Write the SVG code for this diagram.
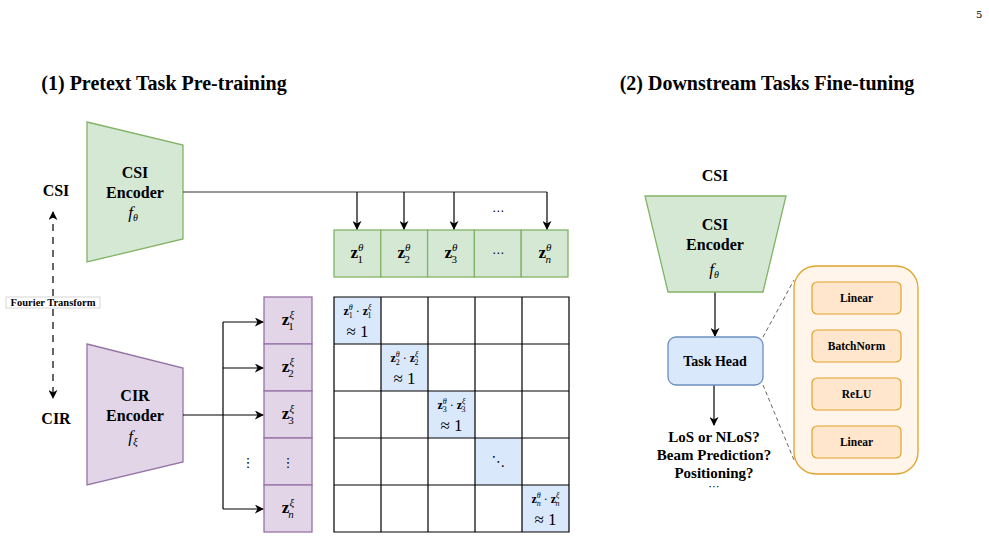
<svg xmlns="http://www.w3.org/2000/svg" width="989" height="540" viewBox="0 0 989 540">
<defs>
<marker id="ah" viewBox="0 0 10 10" refX="9" refY="5" markerWidth="9" markerHeight="9" markerUnits="userSpaceOnUse" orient="auto">
<path d="M0,0 L10,5 L0,10 L3,5 z" fill="#000"/>
</marker>
<marker id="ahs" viewBox="0 0 10 10" refX="9" refY="5" markerWidth="6" markerHeight="6" markerUnits="userSpaceOnUse" orient="auto">
<path d="M0,0 L10,5 L0,10 L3,5 z" fill="#000"/>
</marker>
<style>
text{font-family:"Liberation Serif","Times New Roman",serif;fill:#000}
.title{font-size:20px;font-weight:bold;text-anchor:middle}
.lbl{font-size:16px;font-weight:bold;text-anchor:middle}
.lbl2{font-size:15px;font-weight:bold;text-anchor:middle}
.sm{font-size:11.5px;font-weight:bold;text-anchor:middle}
.mz{font-size:17px;text-anchor:middle}
.cz{font-size:12px;text-anchor:middle}
.bz{font-weight:bold}
.it{font-style:italic}
.green{fill:#d5e8d4;stroke:#82b366;stroke-width:1.3}
.purple{fill:#e1d5e7;stroke:#9673a6;stroke-width:1.3}
.blue{fill:#dae8fc;stroke:#6c8ebf;stroke-width:1.3}
.conn{fill:none;stroke:#000;stroke-width:1.2}
.grid{fill:none;stroke:#000;stroke-width:1.2}
.dash{fill:none;stroke:#666;stroke-width:1;stroke-dasharray:4 3}
</style>
</defs>

<text x="976" y="18" style="font-size:10px;font-family:'DejaVu Serif',serif">5</text>
<text class="title" x="164" y="90">(1) Pretext Task Pre-training</text>
<text class="title" x="767" y="90">(2) Downstream Tasks Fine-tuning</text>

<g id="csi-label">
<text class="lbl" x="56" y="196">CSI</text>
</g>
<g id="cir-label">
<text class="lbl" x="56" y="424">CIR</text>
</g>

<g id="csi-encoder">
<polygon class="green" points="87,122 183,145 183,239 87,262"/>
<text class="lbl" x="135" y="178">CSI</text>
<text class="lbl" x="135" y="198">Encoder</text>
<text class="mz" x="133" y="218"><tspan class="it">f</tspan><tspan class="it" font-size="10" dy="3">θ</tspan></text>
</g>

<g id="cir-encoder">
<polygon class="purple" points="87,344 183,368 183,462 87,485"/>
<text class="lbl" x="135" y="401">CIR</text>
<text class="lbl" x="135" y="421">Encoder</text>
<text class="mz" x="133" y="442"><tspan class="it">f</tspan><tspan class="it" font-size="11" dy="3">ξ</tspan></text>
</g>

<g id="z-theta">
<rect class="green" x="334" y="230" width="46.8" height="47"/>
<rect class="green" x="380.8" y="230" width="46.8" height="47"/>
<rect class="green" x="427.6" y="230" width="46.8" height="47"/>
<rect class="green" x="474.4" y="230" width="46.8" height="47"/>
<rect class="green" x="521.2" y="230" width="46.8" height="47"/>
<text class="mz" x="357" y="258"><tspan class="bz">z</tspan><tspan class="it" font-size="11" dy="-7">θ</tspan><tspan font-size="11" dx="-6" dy="12">1</tspan></text>
<text class="mz" x="404" y="258"><tspan class="bz">z</tspan><tspan class="it" font-size="11" dy="-7">θ</tspan><tspan font-size="11" dx="-6" dy="12">2</tspan></text>
<text class="mz" x="451" y="258"><tspan class="bz">z</tspan><tspan class="it" font-size="11" dy="-7">θ</tspan><tspan font-size="11" dx="-6" dy="12">3</tspan></text>
<text class="mz" x="498" y="257" style="font-family:'DejaVu Sans',sans-serif;font-size:12px">⋯</text>
<text class="mz" x="545" y="258"><tspan class="bz">z</tspan><tspan class="it" font-size="11" dy="-7">θ</tspan><tspan class="it" font-size="11" dx="-6" dy="12">n</tspan></text>
</g>

<g id="z-xi">
<rect class="purple" x="264" y="297" width="48" height="47"/>
<rect class="purple" x="264" y="344" width="48" height="47"/>
<rect class="purple" x="264" y="391" width="48" height="47"/>
<rect class="purple" x="264" y="438" width="48" height="47"/>
<rect class="purple" x="264" y="485" width="48" height="47"/>
<text class="mz" x="288" y="325"><tspan class="bz">z</tspan><tspan class="it" font-size="11" dy="-7">ξ</tspan><tspan font-size="11" dx="-6" dy="12">1</tspan></text>
<text class="mz" x="288" y="372"><tspan class="bz">z</tspan><tspan class="it" font-size="11" dy="-7">ξ</tspan><tspan font-size="11" dx="-6" dy="12">2</tspan></text>
<text class="mz" x="288" y="419"><tspan class="bz">z</tspan><tspan class="it" font-size="11" dy="-7">ξ</tspan><tspan font-size="11" dx="-6" dy="12">3</tspan></text>
<text class="mz" x="288" y="467" style="font-family:'DejaVu Sans',sans-serif;font-size:13px">⋮</text>
<text class="mz" x="288" y="513"><tspan class="bz">z</tspan><tspan class="it" font-size="11" dy="-7">ξ</tspan><tspan class="it" font-size="11" dx="-6" dy="12">n</tspan></text>
</g>

<g id="similarity-matrix">
<rect x="334" y="297" width="235" height="235" fill="#fff"/>
<rect x="334" y="297" width="47" height="47" fill="#dae8fc"/>
<rect x="381" y="344" width="47" height="47" fill="#dae8fc"/>
<rect x="428" y="391" width="47" height="47" fill="#dae8fc"/>
<rect x="475" y="438" width="47" height="47" fill="#dae8fc"/>
<rect x="522" y="485" width="47" height="47" fill="#dae8fc"/>
<path class="grid" d="M334,297 H569 V532 H334 Z M334,344 H569 M334,391 H569 M334,438 H569 M334,485 H569 M381,297 V532 M428,297 V532 M475,297 V532 M522,297 V532"/>
<text class="cz" x="357.5" y="315"><tspan class="bz">z</tspan><tspan class="it" font-size="8" dy="-5">θ</tspan><tspan font-size="8" dx="-4" dy="8">1</tspan><tspan dy="-3"> · </tspan><tspan class="bz">z</tspan><tspan class="it" font-size="8" dy="-5">ξ</tspan><tspan font-size="8" dx="-4" dy="8">1</tspan></text>
<text class="mz" x="357.5" y="337" font-size="14">≈ 1</text>
<text class="cz" x="404.5" y="362"><tspan class="bz">z</tspan><tspan class="it" font-size="8" dy="-5">θ</tspan><tspan font-size="8" dx="-4" dy="8">2</tspan><tspan dy="-3"> · </tspan><tspan class="bz">z</tspan><tspan class="it" font-size="8" dy="-5">ξ</tspan><tspan font-size="8" dx="-4" dy="8">2</tspan></text>
<text class="mz" x="404.5" y="384" font-size="14">≈ 1</text>
<text class="cz" x="451.5" y="409"><tspan class="bz">z</tspan><tspan class="it" font-size="8" dy="-5">θ</tspan><tspan font-size="8" dx="-4" dy="8">3</tspan><tspan dy="-3"> · </tspan><tspan class="bz">z</tspan><tspan class="it" font-size="8" dy="-5">ξ</tspan><tspan font-size="8" dx="-4" dy="8">3</tspan></text>
<text class="mz" x="451.5" y="431" font-size="14">≈ 1</text>
<text class="mz" x="498.5" y="466" style="font-family:'DejaVu Sans',sans-serif;font-size:14px">⋱</text>
<text class="cz" x="545.5" y="503"><tspan class="bz">z</tspan><tspan class="it" font-size="8" dy="-5">θ</tspan><tspan class="it" font-size="8" dx="-4" dy="8">n</tspan><tspan dy="-3"> · </tspan><tspan class="bz">z</tspan><tspan class="it" font-size="8" dy="-5">ξ</tspan><tspan class="it" font-size="8" dx="-4" dy="8">n</tspan></text>
<text class="mz" x="545.5" y="525" font-size="14">≈ 1</text>
</g>

<g id="ft-end">
<rect x="6" y="297" width="94" height="11" fill="#fff" stroke="#ccc" stroke-width="0.8"/>
<text x="53" y="306" style="font-size:10.5px;font-weight:bold;text-anchor:middle">Fourier Transform</text>
</g>

<g id="connectors">
<path d="M53,296 V212" fill="none" stroke="#000" stroke-width="1.2" stroke-dasharray="7 6" marker-end="url(#ah)"/>
<path d="M53,309 V398" fill="none" stroke="#000" stroke-width="1.2" stroke-dasharray="7 6" marker-end="url(#ah)"/>
<path d="M183,192 H547" fill="none" stroke="#333" stroke-width="1.2"/>
<path class="conn" d="M357,192 V229" marker-end="url(#ah)"/>
<path class="conn" d="M404,192 V229" marker-end="url(#ah)"/>
<path class="conn" d="M454,192 V229" marker-end="url(#ah)"/>
<path class="conn" d="M547,192 V229" marker-end="url(#ah)"/>
<text class="mz" x="498" y="215" style="font-family:'DejaVu Sans',sans-serif;font-size:12px">⋯</text>
<path class="conn" d="M183,415 H263"  marker-end="url(#ah)"/>
<path class="conn" d="M223,322 V509"/>
<path class="conn" d="M223,322 H263" marker-end="url(#ah)"/>
<path class="conn" d="M223,368 H263" marker-end="url(#ah)"/>
<path class="conn" d="M223,509 H263" marker-end="url(#ah)"/>
<text class="mz" x="248" y="467" style="font-family:'DejaVu Sans',sans-serif;font-size:13px">⋮</text>
<path class="conn" d="M715,292 V336" marker-end="url(#ah)"/>
<path class="conn" d="M714,385 V425" marker-end="url(#ah)"/>
<path class="dash" d="M763,337 L794,280"/>
<path class="dash" d="M763,385 L794,460"/>
<path class="conn" d="M856,314 V329" stroke-width="1" marker-end="url(#ahs)"/>
<path class="conn" d="M856,362 V377" stroke-width="1" marker-end="url(#ahs)"/>
<path class="conn" d="M856,410 V425" stroke-width="1" marker-end="url(#ahs)"/>
</g>

<g id="ds-csi-label">
<text class="lbl" x="715" y="181">CSI</text>
</g>

<g id="ds-csi-encoder">
<polygon class="green" points="645,196 786,196 763,292 668,292"/>
<text class="lbl" x="715" y="230">CSI</text>
<text class="lbl" x="715" y="250">Encoder</text>
<text class="mz" x="714" y="275"><tspan class="it">f</tspan><tspan class="it" font-size="10" dy="3">θ</tspan></text>
</g>

<g id="task-head">
<rect class="blue" x="668" y="337" width="95" height="48" rx="8"/>
<text x="715" y="366" style="font-size:14px;font-weight:bold;text-anchor:middle">Task Head</text>
</g>

<g id="tasks">
<text class="lbl2" x="714" y="442">LoS or NLoS?</text>
<text class="lbl2" x="714" y="460">Beam Prediction?</text>
<text class="lbl2" x="714" y="478">Positioning?</text>
<text class="mz" x="714" y="490" style="font-family:'DejaVu Sans',sans-serif;font-size:11px">⋯</text>
</g>

<g id="head-detail">
<rect x="794" y="266" width="124" height="208" rx="22" fill="#fff5ea" stroke="#e0a42c" stroke-width="1.3"/>
</g>
<g id="linear-1">
<rect x="812" y="282" width="89" height="32" rx="5" fill="#ffe6cc" stroke="#e0a42c" stroke-width="1.2"/>
<text class="sm" x="856.5" y="302">Linear</text>
</g>
<g id="batchnorm">
<rect x="812" y="330" width="89" height="32" rx="5" fill="#ffe6cc" stroke="#e0a42c" stroke-width="1.2"/>
<text class="sm" x="856.5" y="350">BatchNorm</text>
</g>
<g id="relu">
<rect x="812" y="378" width="89" height="32" rx="5" fill="#ffe6cc" stroke="#e0a42c" stroke-width="1.2"/>
<text class="sm" x="856.5" y="398">ReLU</text>
</g>
<g id="linear-2">
<rect x="812" y="426" width="89" height="32" rx="5" fill="#ffe6cc" stroke="#e0a42c" stroke-width="1.2"/>
<text class="sm" x="856.5" y="446">Linear</text>
</g>
</svg>
